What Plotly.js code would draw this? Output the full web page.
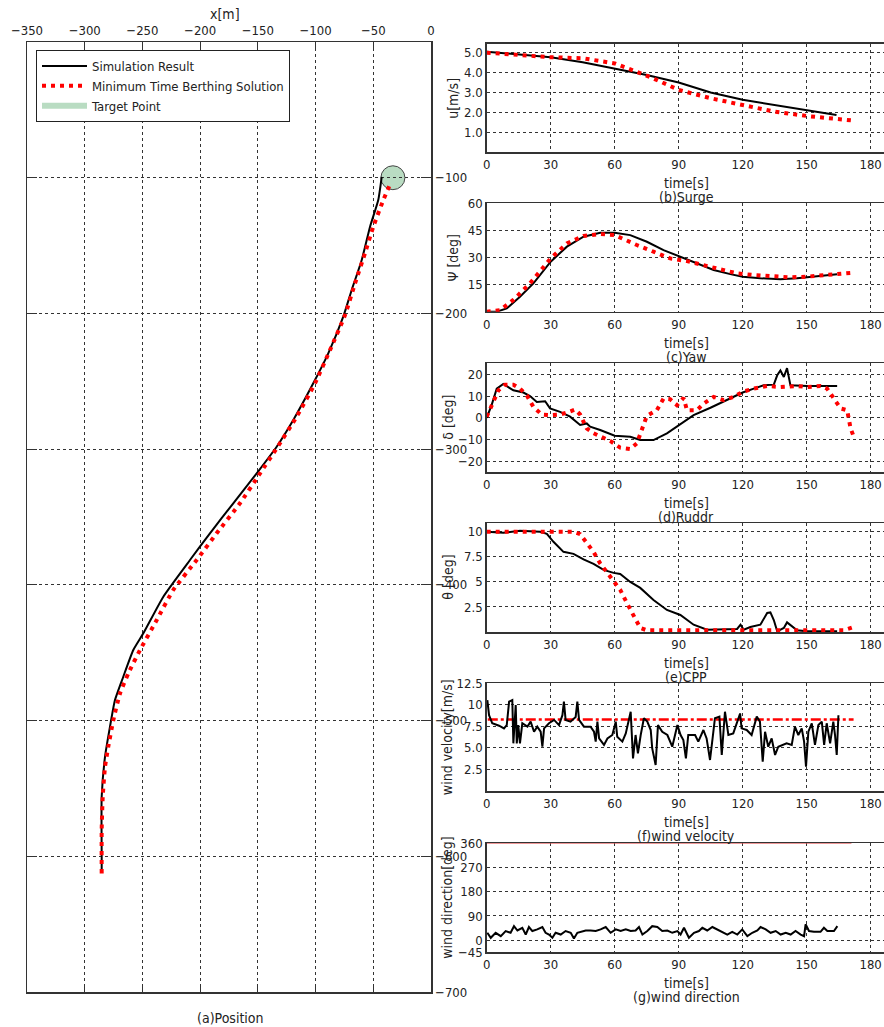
<!DOCTYPE html>
<html>
<head>
<meta charset="utf-8">
<script src="https://cdn.plot.ly/plotly-3.0.1.min.js"></script>
<style>html,body{margin:0;padding:0;background:#fff;}#chart{width:884px;height:1027px;}</style>
</head>
<body>
<div id="chart"></div>
<script>
// ---------------- DATA ----------------
// (a) Position – trajectory in x[m], y[m]
const posSimX = [-285.3,-285.3,-285.3,-282.4,-278.1,-273.8,-266.6,-257.9,-249.2,-231.9,-208.8,-191.5,-171.3,-151.0,-133.7,-119.3,-102.0,-89.0,-76.0,-68.7,-60.0,-52.8,-45.7,-42.7];
const posSimY = [-610.2,-600.3,-556.1,-526.6,-504.5,-484.9,-467.7,-448.0,-435.7,-408.7,-381.7,-362.0,-339.9,-317.8,-298.2,-278.5,-251.5,-229.4,-202.4,-182.7,-160.6,-136.1,-116.4,-99.3];
const posOptX = [-285.3,-285.3,-284.4,-282.4,-279.6,-275.2,-269.4,-262.2,-252.1,-237.6,-223.3,-203.0,-185.7,-165.5,-148.1,-133.7,-116.4,-100.5,-87.5,-74.5,-65.8,-57.2,-50.0,-41.3,-35.5];
const posOptY = [-612.6,-580.6,-556.1,-534.0,-519.3,-499.6,-479.9,-465.2,-448.0,-425.9,-403.8,-381.7,-362.0,-339.9,-317.8,-299.4,-276.1,-251.5,-227.0,-201.2,-177.8,-155.7,-136.1,-116.4,-104.9];
const targetCenter = [-33, -100];   // x[m], y[m]
const targetRadius = [10.4, 8.8];   // x[m], y[m]

// (b) Surge u[m/s]
const uSimT = [0,15,30,45,60,75,90,105,120,135,150,164];
const uSimV = [5.05,4.92,4.77,4.52,4.2,3.88,3.5,3.0,2.63,2.37,2.12,1.87];
const uOptT = [0,15,30,45,60,70,78,90,105,120,135,150,164,172];
const uOptV = [5.0,4.88,4.77,4.72,4.46,4.05,3.71,3.13,2.71,2.37,2.04,1.82,1.66,1.59];

// (c) Yaw psi[deg]
const psiSimT = [0,4.7,9.4,15.6,21.9,30,37.6,45.4,53.2,60,67.3,75.1,82.9,90,98.6,106.4,114.2,120,128.3,137.7,145.5,156.5,164.3];
const psiSimV = [0,0,1.8,8.3,15.7,27.7,36,41.5,43.7,43.7,42.4,38.7,34.1,30.8,26.4,23.1,20.8,19.4,18.5,17.9,18.5,19.7,20.7];
const psiOptT = [0,6.3,12.5,20.3,30,37.6,45.4,53.2,60,64.2,70.4,78.2,86,93.9,101.7,109.5,117.4,125.2,134.6,142.4,150.2,159.6,172.1];
const psiOptV = [0,0.9,6.5,15.7,29.5,37.8,41.9,43,42.4,40,36.9,33.2,29.5,28,25.8,23.1,21.2,20.3,19.7,19,19.4,20.3,21.6];

// (d) Rudder delta[deg]
const dSimT = [0,2.3,4.7,7.8,12.5,17.2,20.3,23.5,27.4,29.7,34.4,39.1,43.8,46.9,48.5,53.2,60,67.3,72,78.2,84.5,90,97,104.9,112.7,120,125.2,129.9,134.6,136.2,137.7,139.3,140.8,142.4,150.2,164.3];
const dSimV = [0,5.8,13.4,15.5,12.6,11.6,10,7.3,7.6,4.3,2.7,0.5,-3.3,-2.6,-4.1,-5.6,-8.2,-8.7,-10.2,-10.2,-7.1,-3.3,1.2,4.6,8.1,11.6,13.4,14.9,15.2,19.5,21.7,18.7,22.8,14.9,14.6,14.6];
const dOptT = [0,2.3,5.5,8.6,12.5,15.6,18.8,21.9,25.8,30,34.4,37.6,41.5,43.8,46.9,50.1,54,57.9,62.6,67.3,70.4,72.8,75.1,79.8,82.9,86,89.2,92.3,93.9,98.6,101.7,106.4,111.1,115.8,120,125.2,131.5,137.7,145.5,150.2,156.5,159.6,162.8,165.9,169,170.6,172.1];
const dOptV = [0.5,5.8,12.6,15.2,15.2,13.4,10.3,5,1.5,1.2,1.5,2.4,3.8,1.5,-4.9,-7.1,-8.7,-10.6,-13.7,-14.3,-11.7,-5.6,0.9,3.5,8.8,8.5,5.8,9.1,3.5,3.5,6.5,9.6,8.1,9.6,11.9,13.4,14.6,14.1,14.6,14.1,14.6,13.4,8.8,4.3,3.5,-4.9,-8.7];

// (e) CPP theta[deg]
const thSimT = [0,7.8,15.6,25,28.2,31.3,36,40.7,45.4,50.1,54.8,59.5,62.6,67.3,72,78.2,84.5,90.8,97,103.3,117.4,119,120.5,123.6,128.3,131.5,133,134.6,136.2,139.3,140.8,143.2,145.5,150.2,164.3];
const thSimV = [10,9.9,10.1,10,9.8,9.0,8.0,7.8,7.25,6.8,6.2,5.9,5.8,5.0,4.4,3.2,2.2,1.7,0.73,0.23,0.3,0.73,0.23,0.5,0.73,1.9,1.95,1.2,0.07,0.4,0.96,0.56,0.17,0.07,0.07];
const thOptT = [0,15.6,31.3,40.7,43.8,46.9,50.1,53.2,56.3,59.5,62.6,65.7,68.9,72,75.1,120,167.4,172.1];
const thOptV = [10,10,10,10,9.77,8.84,8.0,6.85,6.0,5.03,4.2,2.9,1.56,0.4,0.17,0.17,0.17,0.5];

// (f) wind velocity [m/s]
const wvT = [0.3,1.1,2.6,5.8,8.1,9.4,10.5,12.0,12.5,13.6,14.1,14.8,15.6,16.7,19.1,20.6,22.2,23.7,25.3,26.1,26.9,29.2,31.6,33.9,35.5,36.2,37.0,39.3,41.7,42.5,43.3,45.6,48.7,50.3,51.1,51.9,52.7,55.0,56.6,58.9,60.5,61.2,63.6,65.2,67.5,68.6,69.8,70.9,72.2,73.7,75.3,76.9,77.6,79.2,80.3,82.3,84.7,87.0,89.4,90.9,92.2,93.4,94.5,97.7,99.2,101.6,103.1,104.7,105.9,107.0,109.1,110.2,111.7,113.3,115.6,118.0,118.8,119.5,121.9,124.2,126.6,128.1,129.4,130.5,132.0,133.6,135.2,136.7,140.6,143.0,144.5,146.1,147.7,148.8,149.7,150.8,152.4,153.9,155.5,157.1,158.2,159.4,161.0,162.5,163.3,164.1,164.9];
const wvV = [10.56,8.8,7.86,7.58,7.27,7.65,10.37,10.56,5.53,9.98,5.53,7.65,5.53,7.86,7.47,8.05,6.88,7.47,6.88,5.14,7.27,7.86,8.25,7.65,8.8,10.37,8.25,8.05,8.6,10.37,8.25,7.47,7.47,6.88,5.73,8.05,6.1,5.35,6.1,6.5,8.05,6.3,5.73,6.69,9.2,3.79,6.5,4.37,6.5,8.44,8.05,7.08,4.95,3.02,7.65,6.88,6.5,5.14,7.65,6.5,5.92,3.79,6.5,6.5,5.73,7.08,6.1,3.6,6.1,8.44,8.63,4.18,9.2,6.5,6.69,8.44,9.0,7.27,7.08,6.5,8.63,8.05,3.4,6.88,5.14,6.1,4.18,5.14,5.53,5.35,7.47,6.5,7.27,5.73,2.82,6.88,7.86,5.35,7.65,8.05,5.35,7.86,5.53,8.05,6.5,4.18,8.8];
const wvRefT = [0.5, 172];
const wvRefV = [8.3, 8.3];

// (g) wind direction [deg]
const wdT = [0.3,1.9,4.2,6.6,8.9,11.2,12.8,14.4,16.7,18.3,19.8,21.4,23.7,26.1,27.6,29.2,30.8,32.3,34.7,37.0,39.4,40.9,42.5,44.8,46.4,48.7,51.1,53.4,55.8,58.1,60.5,62.8,65.2,67.5,69.8,71.4,73.0,75.3,77.6,80.0,82.3,84.7,87.0,89.4,90.9,92.5,94.8,97.2,99.5,101.1,103.4,105.8,108.1,110.4,112.8,115.1,117.5,119.8,122.2,124.5,126.9,128.4,130.8,133.1,135.5,137.8,140.2,142.5,144.8,147.2,148.8,149.5,151.1,153.4,156.5,158.1,159.7,162.8,164.4];
const wdV = [27.5,8.8,27.5,15,34,27.5,52,36,46,21,49,34,40,49,27.5,21,9,27.5,21,34,27.5,6,27.5,34,36,36,34,40,49,27.5,40,34,40,34,36,49,21,34,52,49,34,36,27.5,34,21,46,9,27.5,34,46,36,49,40,31,21,31,21,40,15,27.5,36,49,40,27.5,34,21,27.5,21,34,21,15,59,34,31,31,46,34,34,52];
const wdRefT = [0, 171];
const wdRefV = [360, 360];

// Tick labels
const posXTicks = [-350,-300,-250,-200,-150,-100,-50,0];
const posYTicks = [-700,-600,-500,-400,-300,-200,-100];
const timeTicks = [0,30,60,90,120,150,180];
const uTicks = [1,2,3,4,5];       const uLabels = ['1.0','2.0','3.0','4.0','5.0'];
const psiTicks = [15,30,45,60];
const dTicks = [-20,-10,0,10,20];
const thTicks = [2.5,5,7.5,10];   const thLabels = ['2.5','5','7.5','10'];
const wvTicks = [2.5,5,7.5,10,12.5]; const wvLabels = ['2.5','5.0','7.5','10','12.5'];
const wdTicks = [-45,0,90,180,270,360];

// ---------------- STYLE / LAYOUT ----------------
const W = 884, H = 1027;
const FONT = 'Liberation Sans Narrow, DejaVu Sans Condensed, Arial Narrow, sans-serif';
const TXT = '#222';
const px = v => v / W;
const py = v => 1 - v / H;
const GRID = {showgrid: true, gridcolor: '#333', gridwidth: 1, griddash: '3px,3px', zeroline: false,
  showline: true, linecolor: '#333', linewidth: 1.5, mirror: true,
  tickfont: {family: FONT, size: 13, color: TXT}};

const RED = '#ff0000';
const BLACK = '#000';
const DOT = '4px,5px';

const traces = [];
function addLine(x, y, xa, ya, color, width, dash, extra) {
  traces.push(Object.assign({type: 'scatter', mode: 'lines', x: x, y: y, xaxis: xa, yaxis: ya,
    line: {color: color, width: width, dash: dash}, showlegend: false, hoverinfo: 'skip'}, extra || {}));
}
addLine(posSimX, posSimY, 'x', 'y', BLACK, 2, 'solid', {name: 'Simulation Result', showlegend: true, legendrank: 1, line: {color: BLACK, width: 2, shape: 'spline', smoothing: 0.5}});
addLine(posOptX, posOptY, 'x', 'y', RED, 4, DOT, {name: 'Minimum Time Berthing Solution', showlegend: true, legendrank: 2, line: {color: RED, width: 4, dash: DOT, shape: 'spline', smoothing: 0.5}});
// legend entry for the target point (its circle is drawn as a layout shape below)
traces.push({type: 'scatter', mode: 'none', x: [targetCenter[0]], y: [targetCenter[1]], xaxis: 'x', yaxis: 'y',
  fill: 'toself', fillcolor: '#b9dcc2', line: {color: '#222', width: 1}, name: 'Target Point', showlegend: true, legendrank: 3, hoverinfo: 'skip'});

addLine(uSimT, uSimV, 'x2', 'y2', BLACK, 2, 'solid');
addLine(uOptT, uOptV, 'x2', 'y2', RED, 4, DOT);
addLine(psiSimT, psiSimV, 'x3', 'y3', BLACK, 2, 'solid');
addLine(psiOptT, psiOptV, 'x3', 'y3', RED, 4, DOT);
addLine(dSimT, dSimV, 'x4', 'y4', BLACK, 2, 'solid');
addLine(dOptT, dOptV, 'x4', 'y4', RED, 4, DOT);
addLine(thSimT, thSimV, 'x5', 'y5', BLACK, 2, 'solid');
addLine(thOptT, thOptV, 'x5', 'y5', RED, 4, DOT);
addLine(wvRefT, wvRefV, 'x6', 'y6', RED, 2.5, '10px,3px,3px,3px');
addLine(wvT, wvV, 'x6', 'y6', BLACK, 2, 'solid');
addLine(wdRefT, wdRefV, 'x7', 'y7', '#e05050', 1, 'solid');
addLine(wdT, wdV, 'x7', 'y7', BLACK, 2, 'solid');

const layout = {
  width: W, height: H,
  margin: {l: 0, r: 0, t: 0, b: 0},
  paper_bgcolor: '#fff', plot_bgcolor: '#fff',
  font: {family: FONT, size: 13, color: TXT},
  showlegend: true,
  legend: {x: px(36), y: py(50), xanchor: 'left', yanchor: 'top', bgcolor: '#fff', bordercolor: '#222', borderwidth: 1,
    font: {family: FONT, size: 13, color: TXT}, tracegroupgap: 0, itemwidth: 45, traceorder: 'normal'},
  xaxis: Object.assign({}, GRID, {domain: [px(27), px(431)], range: [-350, 0], side: 'top', anchor: 'y',
    tickvals: posXTicks, ticks: 'inside', ticklen: 8, tickcolor: '#333', mirror: 'ticks'}),
  yaxis: Object.assign({}, GRID, {domain: [py(992), py(42)], range: [-700, 0], side: 'right', anchor: 'x',
    tickvals: posYTicks, ticks: 'inside', ticklen: 10, tickcolor: '#333', mirror: 'ticks'}),
  shapes: [{type: 'circle', xref: 'x', yref: 'y',
    x0: targetCenter[0] - targetRadius[0], x1: targetCenter[0] + targetRadius[0],
    y0: targetCenter[1] - targetRadius[1], y1: targetCenter[1] + targetRadius[1],
    fillcolor: '#b9dcc2', line: {color: '#444', width: 1}, layer: 'below'}],
  annotations: []
};

const panels = [
  {top: 43.5, bot: 152.2, range: [0, 5.46], tv: uTicks, tt: uLabels, ytitle: 'u[m/s]', yx: 453, cap: '(b)Surge'},
  {top: 203.3, bot: 311.7, range: [0, 60], tv: psiTicks, tt: null, ytitle: 'Ψ [deg]', yx: 453, cap: '(c)Yaw'},
  {top: 363.3, bot: 472.3, range: [-25, 25], tv: dTicks, tt: null, ytitle: 'δ [deg]', yx: 448, cap: '(d)Ruddr'},
  {top: 523.3, bot: 632.0, range: [0, 10.85], tv: thTicks, tt: thLabels, ytitle: 'θ [deg]', yx: 448, cap: '(e)CPP'},
  {top: 683.3, bot: 791.0, range: [0, 12.5], tv: wvTicks, tt: wvLabels, ytitle: 'wind velocity[m/s]', yx: 447, cap: '(f)wind velocity'},
  {top: 843.3, bot: 952.3, range: [-45, 360], tv: wdTicks, tt: null, ytitle: 'wind direction[deg]', yx: 447, cap: '(g)wind direction'}
];
const plotL = 486.7;
panels.forEach((p, i) => {
  const n = i + 2;
  layout['xaxis' + n] = Object.assign({}, GRID, {domain: [px(plotL), 1], range: [0, (W - plotL) / 2.133], anchor: 'y' + n,
    tickvals: timeTicks, ticks: '', showticklabels: true});
  const ya = Object.assign({}, GRID, {domain: [py(p.bot), py(p.top)], range: p.range, anchor: 'x' + n,
    tickvals: p.tv, ticks: ''});
  if (p.tt) ya.ticktext = p.tt;
  layout['yaxis' + n] = ya;
  const mid = (p.top + p.bot) / 2;
  layout.annotations.push({xref: 'paper', yref: 'paper', x: px(p.yx), y: py(mid), text: p.ytitle, textangle: -90,
    showarrow: false, xanchor: 'center', yanchor: 'middle', font: {family: FONT, size: 14, color: TXT}});
  layout.annotations.push({xref: 'paper', yref: 'paper', x: px(686), y: py(p.bot + 31), text: 'time[s]',
    showarrow: false, xanchor: 'center', yanchor: 'middle', font: {family: FONT, size: 14, color: TXT}});
  layout.annotations.push({xref: 'paper', yref: 'paper', x: px(686), y: py(p.bot + 45), text: p.cap,
    showarrow: false, xanchor: 'center', yanchor: 'middle', font: {family: FONT, size: 14, color: TXT}});
});
layout.annotations.push({xref: 'paper', yref: 'paper', x: px(225), y: py(14), text: 'x[m]',
  showarrow: false, xanchor: 'center', yanchor: 'middle', font: {family: FONT, size: 14, color: TXT}});
layout.annotations.push({xref: 'paper', yref: 'paper', x: px(230), y: py(1018), text: '(a)Position',
  showarrow: false, xanchor: 'center', yanchor: 'middle', font: {family: FONT, size: 14, color: TXT}});

Plotly.newPlot('chart', traces, layout, {staticPlot: true, displayModeBar: false});
</script>
</body>
</html>
